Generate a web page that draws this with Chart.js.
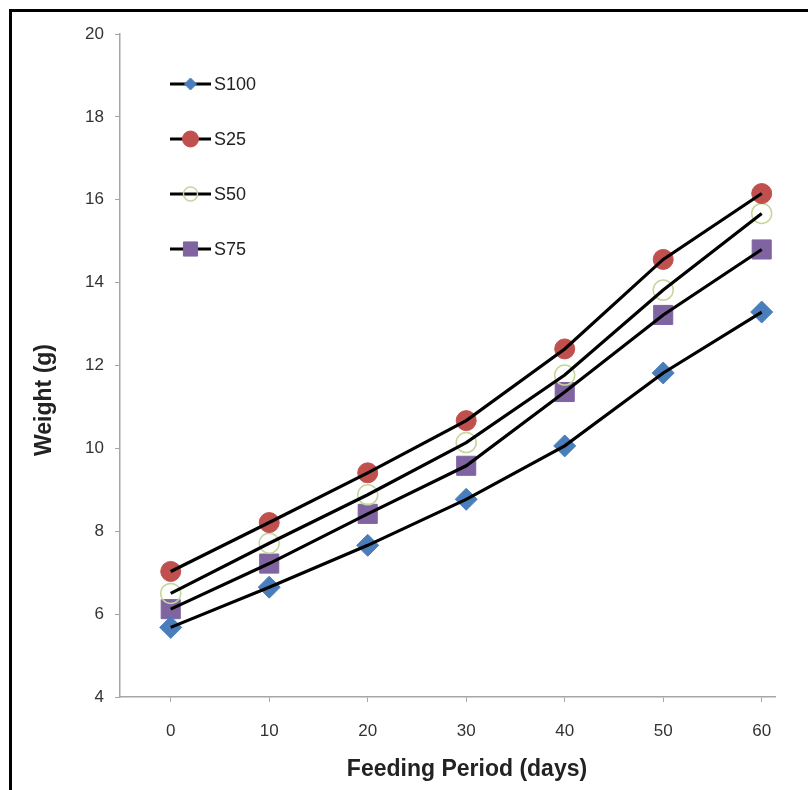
<!DOCTYPE html>
<html>
<head>
<meta charset="utf-8">
<title>Weight vs feeding period</title>
<script src="https://cdn.jsdelivr.net/npm/chart.js@4.4.1/dist/chart.umd.min.js"></script>
<style>
  html, body { margin:0; padding:0; background:#fff; overflow:hidden; }
  #frame { position:absolute; left:9px; top:9px; width:900px; height:900px;
           border:3px solid #000; box-sizing:border-box; }
  #wrap { position:absolute; left:0; top:0; width:808px; height:790px; }
</style>
</head>
<body>
<div id="frame"></div>
<div id="wrap"><canvas id="chart" width="808" height="790"></canvas></div>
<script>
// ─── Data ─────────────────────────────────────
const days   = [0, 10, 20, 30, 40, 50, 60];
const s100   = [5.68, 6.65, 7.66, 8.77, 10.06, 11.82, 13.29];
const s25    = [7.03, 8.21, 9.41, 10.67, 12.40, 14.56, 16.15];
const s50    = [6.50, 7.71, 8.88, 10.14, 11.77, 13.82, 15.67];
const s75    = [6.12, 7.22, 8.42, 9.58, 11.36, 13.22, 14.80];
const yTicks = [4, 6, 8, 10, 12, 14, 16, 18, 20];
const xTitle = 'Feeding Period (days)';
const yTitle = 'Weight (g)';

const FONT = '"Liberation Sans", Arial, sans-serif';

const series = [
  { name:'S100', data:s100, style:'rectRot', r:11,   lr:6,  bg:'#4a7ebb', bc:'#4a7ebb', bw:1 },
  { name:'S25',  data:s25,  style:'circle',  r:10,   lr:8,  bg:'#c0504d', bc:'#c0504d', bw:1 },
  { name:'S50',  data:s50,  style:'circle',  r:10,   lr:7,  bg:'rgba(255,255,255,0)', bc:'#c5d69b', bw:1.5 },
  { name:'S75',  data:s75,  style:'rect',    r:13.5, lr:10, bg:'#8064a2', bc:'#8064a2', bw:1 },
];

const toXY = arr => arr.map((v, i) => ({ x: days[i], y: v }));

// markers first (underneath), black lines drawn over them
const datasets = [];
series.forEach(s => datasets.push({
  label: s.name + ' pts', data: toXY(s.data), showLine:false, order:2,
  pointStyle:s.style, pointRadius:s.r, pointHoverRadius:s.r,
  pointBackgroundColor:s.bg, pointBorderColor:s.bc, pointBorderWidth:s.bw,
}));
series.forEach(s => datasets.push({
  label: s.name, data: toXY(s.data), showLine:true, order:1,
  borderColor:'#000', borderWidth:3.2, pointRadius:0, pointHoverRadius:0, tension:0,
}));

// ─── legend inside the plot, line + marker; axis titles ────
const extras = {
  id: 'extras',
  afterDraw(chart) {
    const { ctx, chartArea } = chart;
    const x0 = chartArea.left + 50, x1 = chartArea.left + 91;
    ctx.save();
    series.forEach((s, i) => {
      const y = chartArea.top + 50 + i * 55;
      ctx.strokeStyle = '#000'; ctx.lineWidth = 3;
      ctx.beginPath(); ctx.moveTo(x0, y); ctx.lineTo(x1, y); ctx.stroke();
      ctx.fillStyle = s.bg; ctx.strokeStyle = s.bc; ctx.lineWidth = s.bw;
      Chart.helpers.drawPoint(ctx, { pointStyle:s.style, radius:s.lr, rotation:0, borderWidth:s.bw }, (x0 + x1) / 2, y);
      ctx.fillStyle = '#222'; ctx.font = '18px ' + FONT;
      ctx.textBaseline = 'middle'; ctx.textAlign = 'left';
      ctx.fillText(s.name, x1 + 3, y + 1);
    });
    // axis titles (offset from centre as in the original)
    ctx.fillStyle = '#222'; ctx.font = 'bold 23px ' + FONT;
    ctx.textAlign = 'center'; ctx.textBaseline = 'middle';
    ctx.fillText(xTitle, 467, 770);
    ctx.translate(45, 400); ctx.rotate(-Math.PI / 2);
    ctx.fillText(yTitle, 0, 0);
    ctx.restore();
  }
};

new Chart(document.getElementById('chart'), {
  type: 'scatter',
  data: { datasets },
  plugins: [extras],
  options: {
    responsive:false, animation:false, devicePixelRatio:1,
    layout: { padding: { left:33, right:33, top:34, bottom:8 } },
    plugins: { legend:{display:false}, tooltip:{enabled:false} },
    scales: {
      x: {
        type:'linear', min:-5.15, max:61.35,
        afterBuildTicks: sc => { sc.ticks = days.map(v => ({ value:v })); },
        afterFit: sc => { sc.height = 85; },
        grid: { display:true, drawOnChartArea:false, drawTicks:true, tickLength:5, color:'#a6a6a6' },
        border: { display:true, color:'#a6a6a6', width:1.5 },
        ticks: { color:'#333', font:{ family:FONT, size:17 }, padding:19, maxRotation:0 },
      },
      y: {
        min:4, max:20,
        afterBuildTicks: sc => { sc.ticks = yTicks.map(v => ({ value:v })); },
        afterFit: sc => { sc.width = 87; },
        grid: { display:true, drawOnChartArea:false, drawTicks:true, tickLength:5, color:'#a6a6a6' },
        border: { display:true, color:'#a6a6a6', width:1.5 },
        ticks: { color:'#333', font:{ family:FONT, size:17 }, padding:11 },
      }
    }
  }
});
</script>
</body>
</html>
